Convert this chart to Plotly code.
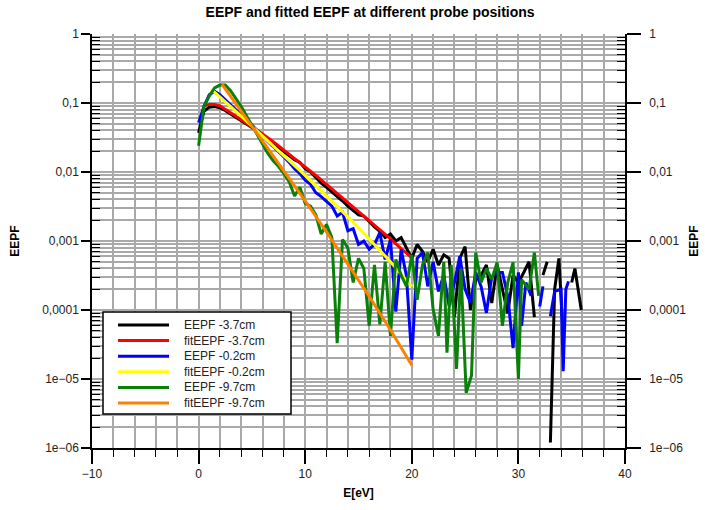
import plotly.graph_objects as go

# ---------------- data ----------------
E_black = [0, 0.5, 1.0, 1.5, 2.0, 2.5, 3.0, 3.5, 4.0, 4.5, 5.0, 5.5, 6.0, 6.5, 7.0, 7.5, 8.0, 8.5, 9.0, 9.5,
           10.0, 10.5, 11.0, 11.5, 12.0, 12.5, 13.0, 13.5, 14.0, 14.5, 15.0, 15.5, 16.0, 16.5, 17.0, 17.5,
           18.0, 18.5, 19.0, 19.5, 20.0, 20.5, 21.0, 21.5, 22.0, 22.5, 23.0, 23.5, 24.0, 24.5, 25.0, 25.5,
           26.0, 26.5, 27.0, 27.5, 28.0, 28.5, 29.0, 29.5, 30.0, 30.5, 31.0, 31.5, 32.0, 32.3, 32.7, 32.85,
           33.0, 33.4, 33.8, 34.1, 34.5, 35.0, 35.3, 35.9]
EEPF_black = [3.7e-2, 7.6e-2, 8.7e-2, 8.9e-2, 8.5e-2, 7.8e-2, 6.9e-2, 6.2e-2, 5.5e-2, 5.0e-2, 4.4e-2, 3.9e-2,
              3.4e-2, 2.95e-2, 2.63e-2, 2.29e-2, 2.0e-2, 1.74e-2, 1.51e-2, 1.38e-2, 1.12e-2, 1.0e-2, 8.3e-3,
              6.9e-3, 6.0e-3, 5.2e-3, 4.4e-3, 3.8e-3, 3.2e-3, 2.8e-3, 2.4e-3, 2.3e-3, 1.9e-3, 1.6e-3, 1.38e-3,
              1.12e-3, 1.26e-3, 1.0e-3, 1.12e-3, 7.9e-4, 5.6e-4, 8.9e-4, 7.1e-4, 5.0e-4, 7.6e-4, 4.5e-4,
              6.3e-4, 5.6e-4, 7.9e-5, 5.6e-4, 8.3e-4, 1.0e-4, 2.8e-4, 3.2e-4, 4.5e-4, 1.26e-4, 4.5e-4, 2.0e-4,
              8.9e-5, 3.2e-4, 2.5e-4, 3.5e-4, 5.0e-4, 7.9e-5, None, 3.2e-4, 5.0e-4, None,
              1.2e-6, 2.0e-4, 5.6e-4, 7.9e-5, None, 2.5e-4, 4.0e-4, 1.0e-4]

E_fit_black = [0.5, 1, 1.5, 2, 3, 4, 5, 6, 7, 8, 9, 10, 11, 12, 13, 14, 15, 16, 17, 18, 19, 20]
fit_black = [9.1e-2, 9.55e-2, 9.55e-2, 9.1e-2, 7.24e-2, 5.75e-2, 4.57e-2, 3.55e-2, 2.75e-2, 2.09e-2, 1.58e-2,
             1.2e-2, 8.91e-3, 6.61e-3, 4.9e-3, 3.63e-3, 2.69e-3, 2.0e-3, 1.45e-3, 1.07e-3, 7.76e-4, 5.75e-4]

E_blue = [0, 0.5, 1.0, 1.5, 2.0, 2.5, 3.0, 3.5, 4.0, 4.5, 5.0, 5.5, 6.0, 6.5, 7.0, 7.5, 8.0, 8.5, 9.0, 9.5,
          10.0, 10.5, 11.0, 11.5, 12.0, 12.5, 13.0, 13.5, 14.0, 14.5, 15.0, 15.5, 16.0, 16.5, 17.0, 17.5,
          18.0, 18.5, 19.0, 19.5, 20.0, 20.5, 21.0, 21.5, 22.0, 22.5, 23.0, 23.5, 24.0, 24.5, 25.0, 25.5,
          26.0, 26.5, 27.0, 27.5, 28.0, 28.5, 29.0, 29.5, 30.0, 30.3, 30.7, 31.2, 31.6, 32.0, 32.3, 32.6,
          33.0, 33.4, 34.0, 34.2, 34.45, 34.7]
EEPF_blue = [5.2e-2, 8.9e-2, 1.32e-1, 1.48e-1, 1.32e-1, 1.12e-1, 9.3e-2, 7.9e-2, 6.8e-2, 5.8e-2, 4.8e-2, 4.0e-2,
             3.3e-2, 2.75e-2, 2.34e-2, 2.0e-2, 1.66e-2, 1.38e-2, 1.12e-2, 9.5e-3, 7.6e-3, 6.6e-3, 5.0e-3,
             4.4e-3, 3.8e-3, 3.2e-3, 2.3e-3, 2.6e-3, 1.41e-3, 1.51e-3, 8.9e-4, 1.0e-3, 7.6e-4, 8.9e-4,
             1.32e-3, 5.4e-4, 1.05e-3, 9.5e-5, 7.6e-4, 3.1e-4, 1.9e-5, 5.6e-4, 6.8e-4, 2.2e-4, 5.0e-4,
             1.86e-4, 3.2e-4, 1.15e-4, 2.5e-4, 6.0e-4, 2.0e-4, 1.26e-4, 3.5e-4, 2.2e-4, 9.1e-5, 3.0e-4,
             3.5e-4, 3.5e-4, 1.6e-4, 2.8e-5, 3.5e-4, 5.9e-5, 2.5e-4, 1.6e-4, None, 1.12e-4, 2.2e-4, None,
             8.1e-5, 1.86e-4, 2.0e-4, 1.3e-5, 2.0e-4, 2.6e-4]

E_fit_blue = [1.2, 2, 4, 6, 8, 10, 12, 14, 16, 18, 20]
fit_blue = [1.58e-1, 1.23e-1, 6.46e-2, 3.31e-2, 1.74e-2, 8.91e-3, 4.47e-3, 2.24e-3, 1.07e-3, 5.01e-4, 2.19e-4]

E_green = [0, 0.5, 1.0, 1.5, 2.0, 2.5, 3.0, 3.5, 4.0, 4.5, 5.0, 5.5, 6.0, 6.5, 7.0, 7.5, 8.0, 8.5, 9.0, 9.5,
           10.0, 10.5, 11.0, 11.5, 12.0, 12.5, 13.0, 13.5, 14.0, 14.5, 15.0, 15.5, 16.0, 16.5, 17.0, 17.5,
           18.0, 18.5, 19.0, 19.5, 20.0, 20.5, 21.0, 21.5, 22.0, 22.5, 23.0, 23.3, 23.7, 24.2, 24.6, 25.1,
           25.6, 26.0, 26.5, 27.0, 27.5, 28.0, 28.5, 29.0, 29.5, 30.0, 30.3, 31.0, 31.5, 31.9]
EEPF_green = [2.4e-2, 8.9e-2, 1.26e-1, 1.66e-1, 1.82e-1, 1.82e-1, 1.51e-1, 1.17e-1, 8.9e-2, 6.5e-2, 4.8e-2,
              3.4e-2, 2.5e-2, 1.86e-2, 1.45e-2, 1.2e-2, 9.5e-3, 7.2e-3, 4.5e-3, 6.0e-3, 3.5e-3, 3.2e-3,
              2.4e-3, 1.26e-3, 1.74e-3, 1.12e-3, 3.3e-5, 1.05e-3, 7.9e-4, 2.5e-4, 5.6e-4, 4.0e-4, 5.9e-5,
              4.5e-4, 6.2e-5, 5.0e-4, 4.2e-5, 5.4e-4, 3.2e-4, 2.2e-4, 6.3e-4, 1.41e-4, 4.5e-4, 6.8e-4,
              1.02e-4, 4.2e-5, 5.0e-4, 2.4e-5, 4.5e-4, 1.4e-5, 4.0e-4, 6.3e-6, 1.12e-5, 6.8e-4, 2.5e-4,
              4.0e-4, 2.8e-4, 4.9e-4, 5.9e-5, 2.5e-4, 4.9e-4, 1.0e-5, 2.75e-4, 2.0e-4, 6.8e-4, 1.6e-4]

E_fit_green = [2.2, 4, 6, 8, 10, 12, 14, 16, 18, 20]
fit_green = [1.86e-1, 7.59e-2, 2.82e-2, 1.05e-2, 3.8e-3, 1.35e-3, 4.68e-4, 1.58e-4, 5.13e-5, 1.58e-5]

series_names = ["EEPF -3.7cm", "fitEEPF -3.7cm", "EEPF -0.2cm", "fitEEPF -0.2cm", "EEPF -9.7cm", "fitEEPF -9.7cm"]
series_x = [E_black, E_fit_black, E_blue, E_fit_blue, E_green, E_fit_green]
series_y = [EEPF_black, fit_black, EEPF_blue, fit_blue, EEPF_green, fit_green]
series_colors = ["#000000", "#ff0000", "#0000ff", "#ffff00", "#0a800a", "#ff8000"]
# last series is attached to the mirrored right axis (same scale) so that axis is drawn
series_axes = ["y", "y", "y", "y", "y", "y2"]

y_tickvals = [1, 0.1, 0.01, 0.001, 0.0001, 1e-5, 1e-6]
y_ticktext = ["1", "0,1", "0,01", "0,001", "0,0001", "1e\u221205", "1e\u221206"]

# ---------------- figure ----------------
FONT = "Liberation Sans, Arial, Helvetica, sans-serif"
GRID = "#a9a9a9"
W, H = 705, 510
ML, MR, MT, MB = 92, 80, 34, 62
PW, PH = W - ML - MR, H - MT - MB

fig = go.Figure()
for xs, ys, name, col, ax in zip(series_x, series_y, series_names, series_colors, series_axes):
    fig.add_trace(go.Scatter(x=xs, y=ys, mode="lines", name=name, yaxis=ax,
                             line=dict(color=col, width=3), connectgaps=False, showlegend=False))

minor_log = [m * 10.0 ** e for e in range(-6, 0) for m in range(2, 10)]

yaxis_common = dict(
    type="log", range=[-6, 0], automargin=False,
    tickmode="array", tickvals=y_tickvals, ticktext=y_ticktext,
    ticks="outside", tickwidth=1.5, tickcolor="black",
    showline=True, linecolor="black", linewidth=1.5,
    tickfont=dict(family=FONT, size=12, color="#222"),
    zeroline=False,
)

# ----- legend box (drawn in pixel-derived paper coordinates) -----
def px_x(p):
    return (p - ML) / PW

def px_y(p):
    return (H - MB - p) / PH

LEG_FONT = 12
row_step = 1.3 * LEG_FONT          # plotly multi-line spacing
box_l, box_r, box_t = 103, 291, 312
row0 = box_t + 13
n = len(series_names)
box_b = row0 + (n - 1) * row_step + 11
key_l, key_r, text_l = 118, 169, 183

shapes = [dict(type="rect", xref="paper", yref="paper",
               x0=px_x(box_l), x1=px_x(box_r), y0=px_y(box_b), y1=px_y(box_t),
               line=dict(color="black", width=1.5), fillcolor="white", layer="above")]
for i, col in enumerate(series_colors):
    yy = px_y(row0 + i * row_step)
    shapes.append(dict(type="line", xref="paper", yref="paper",
                       x0=px_x(key_l), x1=px_x(key_r), y0=yy, y1=yy,
                       line=dict(color=col, width=3), layer="above"))
annotations = [dict(xref="paper", yref="paper", x=px_x(text_l),
                    y=px_y(row0 + (n - 1) * row_step / 2),
                    text="<br>".join(series_names), showarrow=False,
                    xanchor="left", yanchor="middle", align="left", borderpad=0,
                    font=dict(family=FONT, size=LEG_FONT, color="#222"))]

fig.update_layout(
    width=W, height=H,
    margin=dict(l=ML, r=MR, t=MT, b=MB, autoexpand=False),
    paper_bgcolor="white", plot_bgcolor="white",
    font=dict(family=FONT, size=12, color="black"),
    title=dict(text="<b>EEPF and fitted EEPF at different probe positions</b>",
               x=0.525, xanchor="center", y=0.985, yanchor="top",
               font=dict(family=FONT, size=14, color="black")),
    xaxis=dict(
        range=[-10, 40], tick0=0, dtick=10, automargin=False,
        ticks="outside", ticklen=14, tickwidth=1.5, tickcolor="black",
        showline=True, linecolor="black", linewidth=1.5, mirror=False,
        showgrid=True, gridcolor=GRID, gridwidth=1.5, zeroline=False,
        minor=dict(dtick=2, ticks="outside", ticklen=7, tickwidth=1.2, tickcolor="black",
                   showgrid=True, gridcolor=GRID, gridwidth=1.5),
        tickfont=dict(family=FONT, size=12, color="#222"),
        title=dict(text="<b>E[eV]</b>", font=dict(family=FONT, size=12, color="black"), standoff=8),
    ),
    yaxis=dict(
        **yaxis_common, ticklen=9,
        showgrid=True, gridcolor=GRID, gridwidth=1.5,
        minor=dict(tickmode="array", tickvals=minor_log, ticks="inside", ticklen=8, tickwidth=1.2,
                   tickcolor="black", showgrid=True, gridcolor=GRID, gridwidth=1.5),
        title=dict(text="<b>EEPF</b>", font=dict(family=FONT, size=12, color="black"), standoff=20),
    ),
    yaxis2=dict(
        **yaxis_common, ticklen=14, ticklabelstandoff=6,
        overlaying="y", side="right", showgrid=False,
        minor=dict(tickmode="array", tickvals=minor_log, ticks="inside", ticklen=8, tickwidth=1.2,
                   tickcolor="black", showgrid=False),
        title=dict(text="<b>EEPF</b>", font=dict(family=FONT, size=12, color="black"), standoff=4),
    ),
    shapes=shapes,
    annotations=annotations,
    showlegend=False,
)

fig.write_html("out.html")
